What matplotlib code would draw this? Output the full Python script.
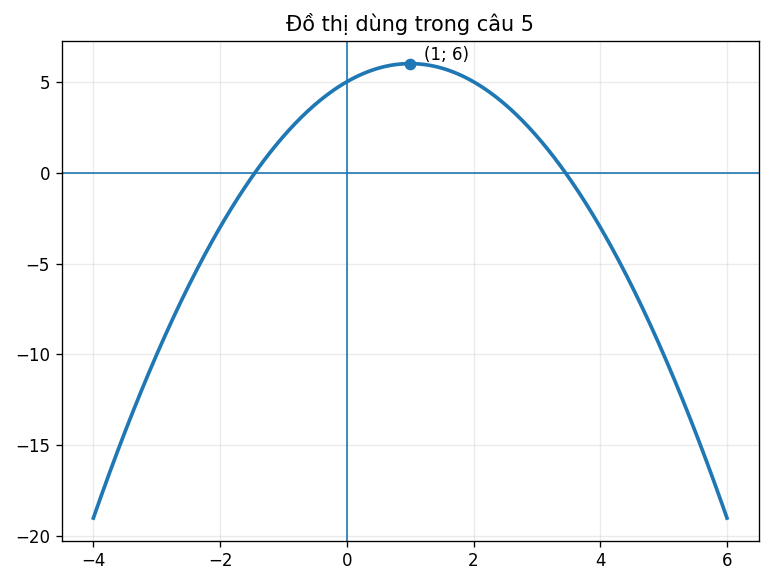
import numpy as np
import matplotlib
matplotlib.use("Agg")
import matplotlib.pyplot as plt

# y = a*x^2 + b*x + c
coef = [-1, 2, 5]
x_range = [-4, 6]
vertex = (1, 6)
vertex_label = "(1; 6)"
title = "Đồ thị dùng trong câu 5"

x = np.linspace(x_range[0], x_range[1], 400)
y = np.polyval(coef, x)

fig = plt.figure(figsize=(771 / 120, 584 / 120), dpi=120)
ax = fig.add_axes([0.080, 0.074, 0.904, 0.856])

ax.plot(x, y, linewidth=2.2)
ax.axhline(0, linewidth=1)
ax.axvline(0, linewidth=1)
ax.scatter([vertex[0]], [vertex[1]], zorder=3)
ax.annotate(vertex_label, vertex, textcoords="offset points", xytext=(8, 2))
ax.grid(True, alpha=0.25)
ax.set_title(title, fontsize=12.5)

fig.savefig("out.png", dpi=120)
